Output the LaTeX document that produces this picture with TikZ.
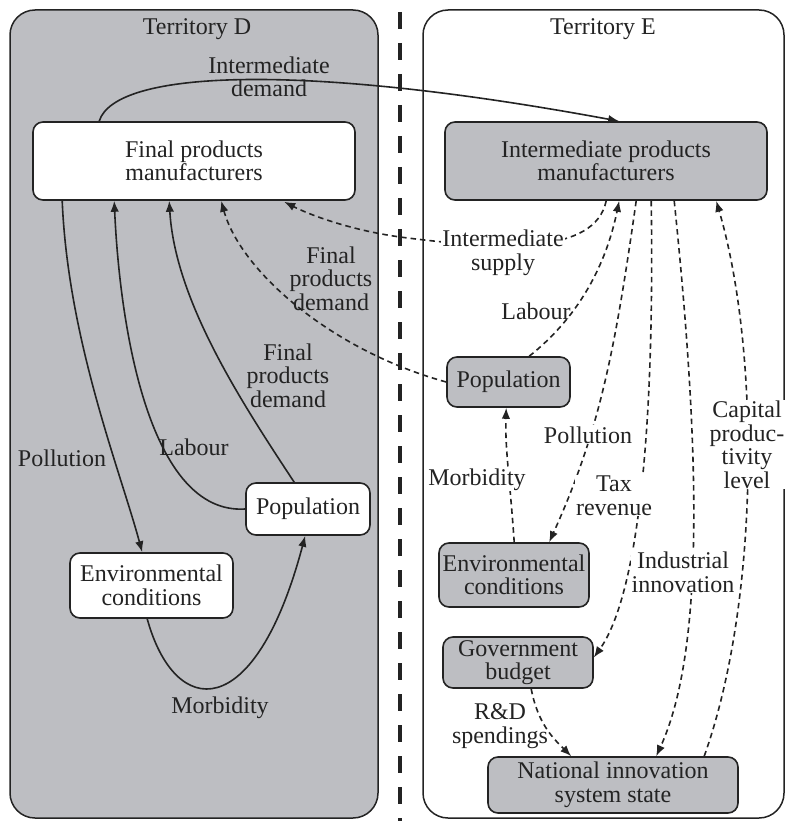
\documentclass[tikz,border=0pt]{standalone}
\usepackage{fontspec}
\setmainfont{Liberation Serif}
\usetikzlibrary{arrows.meta,calc}
\definecolor{terr}{RGB}{189,190,194}
\definecolor{ink}{RGB}{35,35,35}
\begin{document}
\begin{tikzpicture}[x=1pt,y=-1pt,
  every node/.style={font=\fontsize{24}{23.5}\selectfont, text=ink},
  terrbox/.style={draw=ink, line width=1.5pt, rounded corners=25pt, inner sep=0pt},
  box/.style={draw=ink, line width=1.6pt, rounded corners=10pt, align=center, inner sep=0pt},
  wbox/.style={box, fill=white},
  gbox/.style={box, fill=terr},
  lab/.style={align=center, inner sep=1pt, anchor=base},
  wlab/.style={lab, fill=white},
  conn/.style={draw=ink, line width=1.6pt, -{Latex[length=11pt,width=8.5pt]}},
  dconn/.style={conn, dash pattern=on 5.5pt off 4pt}]
\useasboundingbox (0,0) rectangle (786,821);
% territories
\node[terrbox, fill=terr, minimum width=368pt, minimum height=808pt] (terrD) at (194,414) {};
\node[terrbox, fill=white, minimum width=361pt, minimum height=808pt] (terrE) at (603.5,414) {};
\draw[draw=ink, line width=4pt, dash pattern=on 17pt off 14pt] (400,12) -- (400,821);
\node[lab] (tD) at (197,35) {Territory D};
\node[lab] (tE) at (603,35) {Territory E};
% nodes
\node[wbox, minimum width=322pt, minimum height=78pt] (fin) at (194,161) {Final products\\manufacturers};
\node[gbox, minimum width=322pt, minimum height=78pt] (inter) at (606,161) {Intermediate products\\manufacturers};
\node[wbox, minimum width=124pt, minimum height=52pt] (popD) at (308,509) {Population};
\node[wbox, minimum width=163pt, minimum height=65pt] (envD) at (151.5,585.5) {Environmental\\conditions};
\node[gbox, minimum width=123pt, minimum height=50pt] (popE) at (508.5,382) {Population};
\node[gbox, minimum width=150pt, minimum height=64pt] (envE) at (514,575) {Environmental\\conditions};
\node[gbox, minimum width=150pt, minimum height=51pt] (gov) at (518,662.5) {Government\\budget};
\node[gbox, minimum width=250pt, minimum height=56pt] (nis) at (613,785) {National innovation\\system state};
% connectors territory D
\draw[conn] ($(fin.north west)+(67,0)$) .. controls (115,70) and (300,62) .. ($(inter.north west)+(175,0)$);
\draw[conn] ($(fin.south west)+(30,0)$) .. controls (68,340) and (120,470) .. ($(envD.north west)+(73,0)$);
\draw[conn] (popD.west) .. controls (150,515) and (120,330) .. ($(fin.south west)+(82,0)$);
\draw[conn] ($(popD.north west)+(49,0)$) .. controls (240,400) and (175,300) .. ($(fin.south west)+(137,0)$);
\draw[conn] ($(envD.south west)+(78,0)$) .. controls (175,720) and (255,725) .. ($(popD.south west)+(60,0)$);
% dashed connectors
\draw[dconn] (popE.west) .. controls (330,350) and (240,270) .. ($(fin.south west)+(189,0)$);
\draw[dconn] ($(inter.south west)+(162,0)$) .. controls (595,255) and (500,250) .. (400,237) .. controls (350,230) and (310,215) .. ($(fin.south west)+(252,1)$);
\draw[dconn] ($(popE.north west)+(83,0)$) .. controls (575,320) and (605,270) .. ($(inter.south west)+(175,0)$);
\draw[dconn] ($(inter.south west)+(192,0)$) .. controls (615,350) and (600,430) .. ($(envE.north west)+(111,0)$);
\draw[dconn] ($(envE.north west)+(76,0)$) .. controls (510,480) and (505,450) .. ($(popE.south west)+(60,0)$);
\draw[dconn] ($(inter.south west)+(207,0)$) .. controls (655,450) and (635,600) .. ($(gov.east)+(0,-5)$);
\draw[dconn] ($(inter.south west)+(230,0)$) .. controls (700,450) and (705,650) .. ($(nis.north west)+(169,0)$);
\draw[dconn] ($(nis.north west)+(217,0)$) .. controls (760,600) and (760,350) .. ($(inter.south west)+(272,0)$);
\draw[dconn] ($(gov.south west)+(89,0)$) .. controls (538,725) and (555,740) .. ($(nis.north west)+(84,0)$);
% labels (anchor base = baseline of last line)
\node[lab] (lInterDem) at (269,97) {Intermediate\\demand};
\node[lab] (lFpdE) at (331,310) {Final\\products\\demand};
\node[lab] (lFpdD) at (288,407) {Final\\products\\demand};
\node[lab] (lLabD) at (194,455) {Labour};
\node[lab] (lPolD) at (62,466) {Pollution};
\node[lab] (lMorD) at (220,713) {Morbidity};
\node[wlab] (lSup) at (503,270) {Intermediate\\supply};
\node[lab] (lLabE) at (536,319) {Labour};
\node[wlab] (lPolE) at (588,443) {Pollution};
\node[wlab] (lMorE) at (477,485) {Morbidity};
\node[wlab] (lTax) at (614,515) {Tax\\revenue};
\node[wlab] (lCap) at (747,488) {Capital\\produc-\\tivity\\level};
\node[wlab] (lInd) at (683,592) {Industrial\\innovation};
\node[lab] (lRD) at (500,743) {R\&D\\spendings};
\end{tikzpicture}
\end{document}
